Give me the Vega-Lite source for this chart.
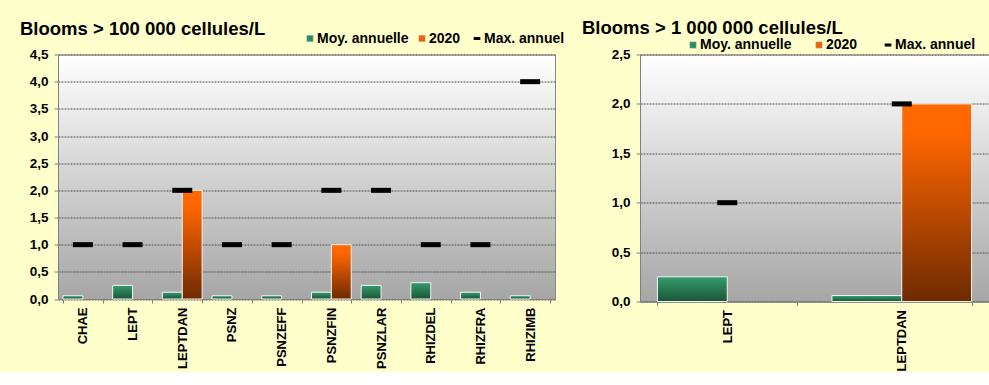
{
  "$schema": "https://vega.github.io/schema/vega-lite/v6.json",
  "background": "#FFFFCC",
  "padding": {"left": 19, "top": 17.5, "right": 0, "bottom": 0},
  "spacing": 85,
  "bounds": "flush",
  "datasets": {
    "a": [
      {"cat": "CHAE", "serie": "Moy. annuelle", "value": 0.06},
      {"cat": "CHAE", "serie": "2020", "value": 0},
      {"cat": "CHAE", "serie": "Max. annuel", "value": 1},
      {"cat": "LEPT", "serie": "Moy. annuelle", "value": 0.25},
      {"cat": "LEPT", "serie": "2020", "value": 0},
      {"cat": "LEPT", "serie": "Max. annuel", "value": 1},
      {"cat": "LEPTDAN", "serie": "Moy. annuelle", "value": 0.125},
      {"cat": "LEPTDAN", "serie": "2020", "value": 2},
      {"cat": "LEPTDAN", "serie": "Max. annuel", "value": 2},
      {"cat": "PSNZ", "serie": "Moy. annuelle", "value": 0.06},
      {"cat": "PSNZ", "serie": "2020", "value": 0},
      {"cat": "PSNZ", "serie": "Max. annuel", "value": 1},
      {"cat": "PSNZEFF", "serie": "Moy. annuelle", "value": 0.06},
      {"cat": "PSNZEFF", "serie": "2020", "value": 0},
      {"cat": "PSNZEFF", "serie": "Max. annuel", "value": 1},
      {"cat": "PSNZFIN", "serie": "Moy. annuelle", "value": 0.125},
      {"cat": "PSNZFIN", "serie": "2020", "value": 1},
      {"cat": "PSNZFIN", "serie": "Max. annuel", "value": 2},
      {"cat": "PSNZLAR", "serie": "Moy. annuelle", "value": 0.25},
      {"cat": "PSNZLAR", "serie": "2020", "value": 0},
      {"cat": "PSNZLAR", "serie": "Max. annuel", "value": 2},
      {"cat": "RHIZDEL", "serie": "Moy. annuelle", "value": 0.3},
      {"cat": "RHIZDEL", "serie": "2020", "value": 0},
      {"cat": "RHIZDEL", "serie": "Max. annuel", "value": 1},
      {"cat": "RHIZFRA", "serie": "Moy. annuelle", "value": 0.125},
      {"cat": "RHIZFRA", "serie": "2020", "value": 0},
      {"cat": "RHIZFRA", "serie": "Max. annuel", "value": 1},
      {"cat": "RHIZIMB", "serie": "Moy. annuelle", "value": 0.06},
      {"cat": "RHIZIMB", "serie": "2020", "value": 0},
      {"cat": "RHIZIMB", "serie": "Max. annuel", "value": 4}
    ],
    "b": [
      {"cat": "LEPT", "serie": "Moy. annuelle", "value": 0.25},
      {"cat": "LEPT", "serie": "2020", "value": 0},
      {"cat": "LEPT", "serie": "Max. annuel", "value": 1},
      {"cat": "LEPTDAN", "serie": "Moy. annuelle", "value": 0.06},
      {"cat": "LEPTDAN", "serie": "2020", "value": 2},
      {"cat": "LEPTDAN", "serie": "Max. annuel", "value": 2}
    ]
  },
  "hconcat": [
    {
      "width": 497,
      "height": 244.5,
      "title": {"text": "Blooms > 100 000 cellules/L", "anchor": "start", "frame": "group", "dx": -38, "offset": -7},
      "data": {"name": "a"},
      "encoding": {
        "x": {"field": "cat", "type": "nominal", "sort": null, "scale": {"paddingInner": 0.2, "paddingOuter": 0.1}, "axis": {"title": null}},
        "y": {"field": "value", "type": "quantitative", "scale": {"domain": [0, 4.5], "nice": false},
              "axis": {"title": null, "values": [0, 0.5, 1, 1.5, 2, 2.5, 3, 3.5, 4, 4.5], "labelExpr": "replace(format(datum.value, '.1f'), '.', ',')"}}
      },
      "layer": [
        {
          "transform": [{"filter": "datum.serie === 'Moy. annuelle'"}],
          "mark": {"type": "bar", "stroke": "#f4f4f4", "strokeWidth": 1,
                   "color": {"gradient": "linear", "x1": 0, "y1": 0, "x2": 0, "y2": 1, "stops": [{"offset": 0, "color": "#359B6D"}, {"offset": 1, "color": "#1B5538"}]}},
          "encoding": {"xOffset": {"field": "serie", "scale": {"domain": ["Moy. annuelle", "2020"], "paddingInner": 0, "paddingOuter": 0}}}
        },
        {
          "transform": [{"filter": "datum.serie === '2020' && datum.value > 0"}],
          "mark": {"type": "bar", "stroke": "#f4f4f4", "strokeWidth": 1,
                   "color": {"gradient": "linear", "x1": 0, "y1": 0, "x2": 0, "y2": 1, "stops": [{"offset": 0, "color": "#FF6A00"}, {"offset": 0.15, "color": "#FF6600"}, {"offset": 1, "color": "#6E2A00"}]}},
          "encoding": {"xOffset": {"field": "serie", "scale": {"domain": ["Moy. annuelle", "2020"], "paddingInner": 0, "paddingOuter": 0}}}
        },
        {
          "transform": [{"filter": "datum.serie === 'Max. annuel'"}],
          "mark": {"type": "tick", "thickness": 5, "size": 20, "orient": "horizontal", "opacity": 1},
          "encoding": {
            "color": {"field": "serie", "type": "nominal",
                      "scale": {"domain": ["Moy. annuelle", "2020", "Max. annuel"], "range": ["#2E8B60", "#E8630A", "#000000"]},
                      "legend": {"orient": "none", "legendX": 245, "legendY": -23, "direction": "horizontal", "title": null, "columnPadding": 6, "padding": 0,
                                 "symbolType": {"expr": "datum.value === 'Max. annuel' ? 'stroke' : 'square'"},
                                 "symbolStrokeColor": {"expr": "datum.value === 'Max. annuel' ? '#000000' : '#e0e0e0'"},
                                 "symbolStrokeWidth": {"expr": "datum.value === 'Max. annuel' ? 3 : 0.5"},
                                 "symbolOpacity": 1}}
          }
        }
      ]
    },
    {
      "width": 349,
      "height": 247,
      "title": {"text": "Blooms > 1 000 000 cellules/L", "anchor": "start", "frame": "group", "dx": -58, "offset": 1},
      "data": {"name": "b"},
      "encoding": {
        "x": {"field": "cat", "type": "nominal", "sort": null, "scale": {"paddingInner": 0.2, "paddingOuter": 0.1}, "axis": {"title": null}},
        "y": {"field": "value", "type": "quantitative", "scale": {"domain": [0, 2.5], "nice": false},
              "axis": {"title": null, "values": [0, 0.5, 1, 1.5, 2, 2.5], "labelExpr": "replace(format(datum.value, '.1f'), '.', ',')"}}
      },
      "layer": [
        {
          "transform": [{"filter": "datum.serie === 'Moy. annuelle'"}],
          "mark": {"type": "bar", "stroke": "#f4f4f4", "strokeWidth": 1,
                   "color": {"gradient": "linear", "x1": 0, "y1": 0, "x2": 0, "y2": 1, "stops": [{"offset": 0, "color": "#359B6D"}, {"offset": 1, "color": "#1B5538"}]}},
          "encoding": {"xOffset": {"field": "serie", "scale": {"domain": ["Moy. annuelle", "2020"], "paddingInner": 0, "paddingOuter": 0}}}
        },
        {
          "transform": [{"filter": "datum.serie === '2020' && datum.value > 0"}],
          "mark": {"type": "bar", "stroke": "#f4f4f4", "strokeWidth": 1,
                   "color": {"gradient": "linear", "x1": 0, "y1": 0, "x2": 0, "y2": 1, "stops": [{"offset": 0, "color": "#FF6A00"}, {"offset": 0.15, "color": "#FF6600"}, {"offset": 1, "color": "#6E2A00"}]}},
          "encoding": {"xOffset": {"field": "serie", "scale": {"domain": ["Moy. annuelle", "2020"], "paddingInner": 0, "paddingOuter": 0}}}
        },
        {
          "transform": [{"filter": "datum.serie === 'Max. annuel'"}],
          "mark": {"type": "tick", "thickness": 5, "size": 20, "orient": "horizontal", "opacity": 1},
          "encoding": {
            "color": {"field": "serie", "type": "nominal",
                      "scale": {"domain": ["Moy. annuelle", "2020", "Max. annuel"], "range": ["#2E8B60", "#E8630A", "#000000"]},
                      "legend": {"orient": "none", "legendX": 46, "legendY": -16.5, "direction": "horizontal", "title": null, "columnPadding": 20, "padding": 0,
                                 "symbolType": {"expr": "datum.value === 'Max. annuel' ? 'stroke' : 'square'"},
                                 "symbolStrokeColor": {"expr": "datum.value === 'Max. annuel' ? '#000000' : '#e0e0e0'"},
                                 "symbolStrokeWidth": {"expr": "datum.value === 'Max. annuel' ? 3 : 0.5"},
                                 "symbolOpacity": 1}}
          }
        }
      ]
    }
  ],
  "resolve": {"scale": {"color": "independent", "y": "independent", "x": "independent", "xOffset": "independent"}, "legend": {"color": "independent"}},
  "config": {
    "font": "Liberation Sans",
    "view": {"stroke": "#888888", "strokeWidth": 1,
             "fill": {"gradient": "linear", "x1": 0, "y1": 0, "x2": 0, "y2": 1, "stops": [{"offset": 0, "color": "#FFFFFF"}, {"offset": 1, "color": "#A6A6A6"}]}},
    "title": {"font": "Liberation Sans", "fontSize": 18.5, "fontWeight": "bold", "color": "#000000"},
    "legend": {"labelFont": "Liberation Sans", "labelFontSize": 14, "labelFontWeight": "bold", "labelColor": "#000000", "symbolSize": 45, "labelOffset": 0},
    "axis": {"labelFont": "Liberation Sans", "labelFontWeight": "bold", "labelColor": "#000000", "domainColor": "#808080", "tickColor": "#808080"},
    "axisY": {"labelFontSize": 13.5, "tickSize": 4, "labelPadding": 6, "grid": true, "gridColor": "#555555", "gridDash": [2, 1], "gridWidth": 1, "gridOpacity": 1},
    "axisX": {"labelFontSize": 13, "labelAngle": -90, "tickBand": "extent", "tickSize": 4, "labelPadding": 4, "grid": false}
  }
}
